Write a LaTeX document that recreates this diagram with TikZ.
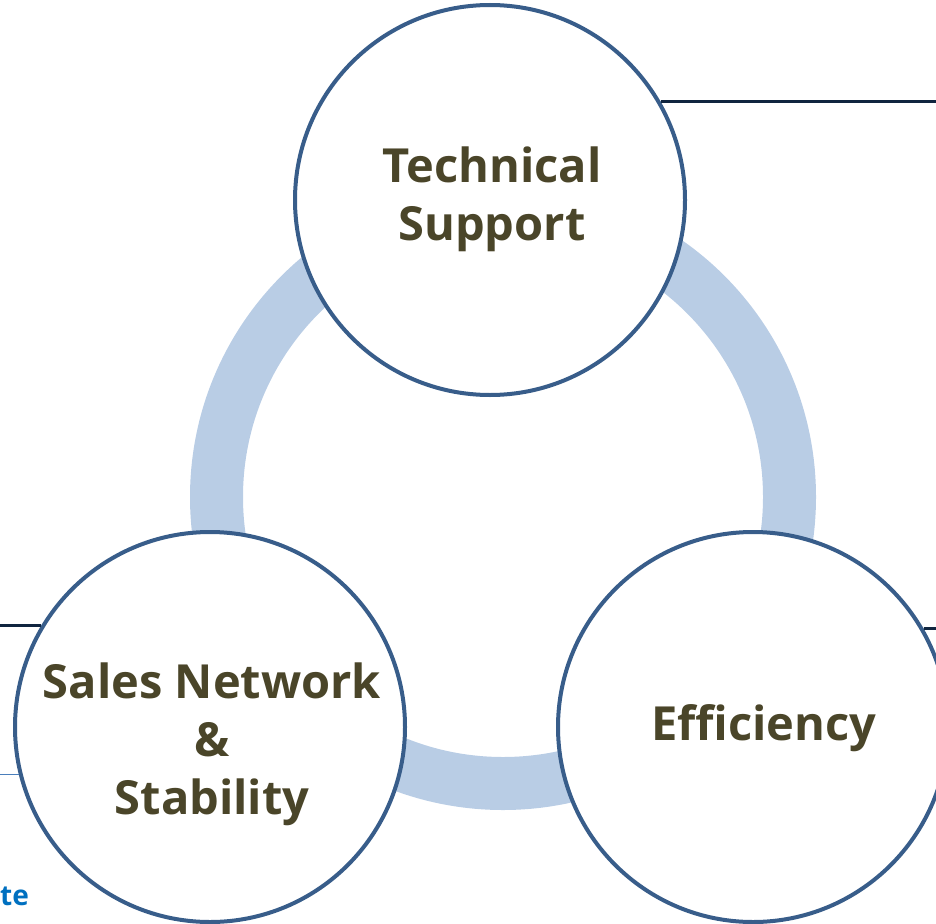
\documentclass[tikz,border=0pt]{standalone}
\usepackage{fontspec}
\setmainfont{Open Sans}
\usepackage{tikz}
\definecolor{ringblue}{HTML}{B9CDE5}
\definecolor{rimblue}{HTML}{385D8A}
\definecolor{navyline}{HTML}{10253F}
\definecolor{thinblue}{HTML}{4A7EBB}
\definecolor{olivetext}{HTML}{4A4529}
\definecolor{noteblue}{HTML}{0070C0}
\begin{document}
\begin{tikzpicture}[x=1pt,y=-1pt,
		topic/.style={circle, draw=rimblue, line width=4pt, fill=white, minimum size=390pt, inner sep=0pt, outer sep=2pt},
		topictext/.style={align=center, text=olivetext, font=\fontsize{47}{58}\selectfont\bfseries, inner sep=0pt}]
	\useasboundingbox (0,0) rectangle (936,923);
	\draw[ringblue, line width=53pt] (503,497) circle[radius=286.5pt];
	\node[topic] (tech) at (490,200) {};
	\node[topic] (sales) at (210,727) {};
	\node[topic] (eff) at (753,727) {};
	% free ends of the lines, level with their start
	\path (tech.30.5) ++(300,0) coordinate (techend);
	\path (sales.149.5) ++(-60,0) coordinate (salesend);
	\path (eff.30.5) ++(60,0) coordinate (effend);
	\path (sales.194) ++(-40,0) coordinate (thinend);
	\draw[navyline, line width=3.5pt] (tech.30.5) -- (techend);
	\draw[navyline, line width=3.5pt] (sales.149.5) -- (salesend);
	\draw[navyline, line width=3.5pt] (eff.30.5) -- (effend);
	\draw[thinblue, line width=1.5pt] (sales.194) -- (thinend);
	\node[topictext] (techtxt) at (492,199) {Technical\\Support};
	\node[topictext] (salestxt) at (212,744) {Sales Network\\\&\\Stability};
	\node[topictext] (efftxt) at (764,728) {Efficiency};
	\node[anchor=base west, inner sep=0pt, text=noteblue, font=\fontsize{28}{34}\selectfont\bfseries] (note) at (0,905) {te};
\end{tikzpicture}
\end{document}
